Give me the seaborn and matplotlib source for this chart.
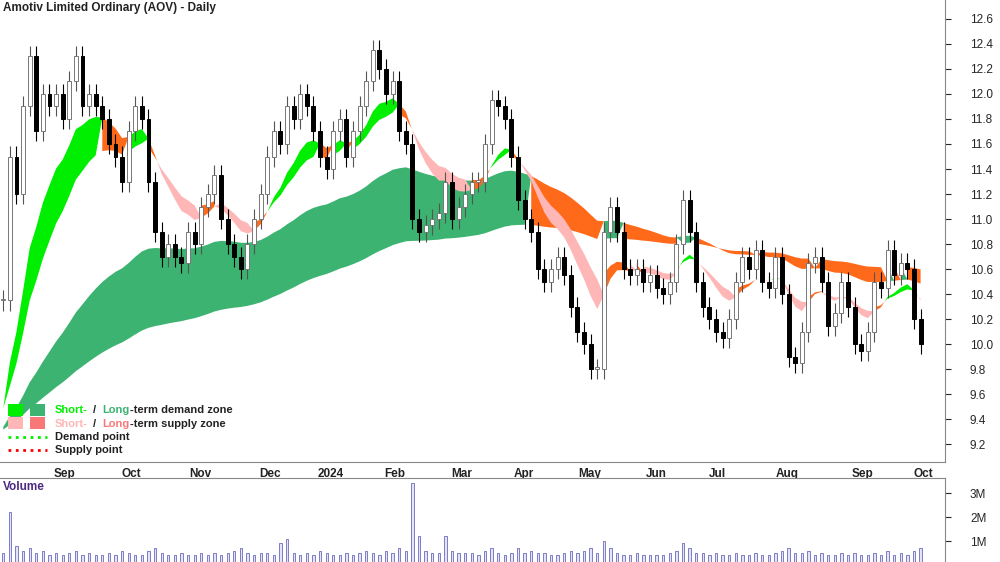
import matplotlib.pyplot as plt
import seaborn as sns
import pandas as pd
import numpy as np

# two-day bars
closes = [10.35, 11.5, 11.2, 11.9, 12.3, 11.7, 12.0, 11.9, 12.0, 11.8,
          12.1, 12.3, 11.9, 12.0, 11.9, 11.8, 11.6, 11.5, 11.3, 11.7,
          11.9, 11.8, 11.3, 10.9, 10.7, 10.8, 10.7, 10.65, 10.9, 10.8,
          11.1, 11.2, 11.35, 11.0, 10.8, 10.7, 10.6, 10.8, 11.0, 11.2,
          11.5, 11.7, 11.6, 11.9, 11.8, 12.0, 11.9, 11.7, 11.5, 11.4,
          11.7, 11.8, 11.5, 11.7, 11.9, 12.1, 12.35, 12.2, 12.0, 12.1,
          11.7, 11.6, 11.0, 10.9, 10.95, 11.0, 11.05, 11.3, 11.0, 11.1,
          11.2, 11.3, 11.3, 11.6, 11.95, 11.9, 11.8, 11.5, 11.15, 11.0,
          10.9, 10.6, 10.5, 10.6, 10.7, 10.55, 10.3, 10.1, 10.0, 9.8,
          9.8, 10.9, 11.1, 10.9, 10.6, 10.55, 10.6, 10.5, 10.55, 10.45,
          10.4, 10.5, 10.8, 11.15, 10.9, 10.5, 10.3, 10.2, 10.1, 10.05,
          10.2, 10.5, 10.7, 10.6, 10.75, 10.5, 10.45, 10.7, 10.4, 9.9,
          9.85, 10.1, 10.65, 10.7, 10.5, 10.15, 10.25, 10.5, 10.3, 10.0,
          9.95, 10.1, 10.5, 10.45, 10.75, 10.55, 10.65, 10.6, 10.2, 10.0]

# level before the chart starts (zones start near it on the left edge)
prior_close = 9.3

volume_m = [0.5, 2.2, 0.8, 0.6, 0.7, 0.5, 0.6, 0.4, 0.5, 0.4,
            0.5, 0.6, 0.4, 0.5, 0.4, 0.4, 0.5, 0.4, 0.6, 0.5,
            0.4, 0.4, 0.6, 0.7, 0.5, 0.4, 0.4, 0.5, 0.4, 0.4,
            0.5, 0.4, 0.5, 0.4, 0.5, 0.6, 0.7, 0.5, 0.4, 0.5,
            0.5, 0.4, 0.9, 1.1, 0.5, 0.4, 0.5, 0.4, 0.6, 0.5,
            0.4, 0.4, 0.5, 0.4, 0.5, 0.6, 0.5, 0.4, 0.6, 0.5,
            0.7, 0.6, 3.4, 1.2, 0.6, 0.5, 0.5, 1.2, 0.6, 0.5,
            0.5, 0.5, 0.4, 0.6, 0.7, 0.5, 0.4, 0.5, 0.7, 0.5,
            0.6, 0.5, 0.5, 0.4, 0.4, 0.5, 0.6, 0.5, 0.6, 0.7,
            0.5, 1.0, 0.7, 0.5, 0.4, 0.4, 0.5, 0.4, 0.4, 0.4,
            0.4, 0.5, 0.6, 0.9, 0.7, 0.5, 0.5, 0.4, 0.5, 0.4,
            0.4, 0.5, 0.4, 0.4, 0.5, 0.4, 0.4, 0.5, 0.6, 0.7,
            0.5, 0.5, 0.6, 0.4, 0.5, 0.4, 0.4, 0.5, 0.4, 0.5,
            0.4, 0.4, 0.5, 0.4, 0.6, 0.4, 0.5, 0.4, 0.6, 0.7]

month_labels = ['Sep', 'Oct', 'Nov', 'Dec', '2024', 'Feb', 'Mar', 'Apr',
                'May', 'Jun', 'Jul', 'Aug', 'Sep', 'Oct']
month_pos = [6.8, 17.0, 27.3, 37.9, 46.8, 56.8, 67.0, 76.5,
             86.2, 96.5, 106.0, 116.2, 127.6, 137.1]

price_ticks = [9.2, 9.4, 9.6, 9.8, 10.0, 10.2, 10.4, 10.6, 10.8, 11.0,
               11.2, 11.4, 11.6, 11.8, 12.0, 12.2, 12.4, 12.6]

LIME = '#00ee00'
SEA = '#3cb371'
PINK = '#ffb6b6'
SALMON = '#f87878'
ORANGE = '#ff6a1a'

df = pd.DataFrame({'close': closes, 'vol': volume_m})
df['open'] = df['close'].shift(1).fillna(df['close'])
df['x'] = np.arange(len(df))


def ema(span):
    seeded = pd.Series([prior_close] + closes)
    return seeded.ewm(span=span, adjust=False).mean().iloc[1:].values


s_fast, s_slow = ema(10), ema(16)
l_fast, l_slow = ema(50), ema(110)

sns.set_style('white')
plt.rcParams['font.family'] = ['Liberation Sans', 'DejaVu Sans']

fig = plt.figure(figsize=(10, 5.62), dpi=100)
ax = fig.add_axes([0.0, 1 - 462 / 562, 0.945, 462 / 562])
axv = fig.add_axes([0.0, 0.0, 0.945, 84 / 562])

x = df['x'].values
# long-term zone: green while the slow average rises, orange while it falls
l_up = np.diff(l_slow, prepend=l_slow[0] - 1) > 0
ax.fill_between(x, l_fast, l_slow, where=l_up, color=SEA, lw=0, interpolate=True)
ax.fill_between(x, l_fast, l_slow, where=~l_up, color=ORANGE, lw=0, interpolate=True)

# short-term zone
rising = np.diff(s_fast, prepend=s_fast[0]) > 0
sup = s_fast > s_slow
ax.fill_between(x, s_fast, s_slow, where=sup & rising, color=LIME, lw=0, interpolate=True)
ax.fill_between(x, s_fast, s_slow, where=~sup & ~rising, color=PINK, lw=0, interpolate=True)
ax.fill_between(x, s_fast, s_slow, where=(sup != rising), color=ORANGE, lw=0, interpolate=True)

# candles
wick = 0.08
for _, r in df.iterrows():
    lo, hi = min(r.open, r.close), max(r.open, r.close)
    down = r.close < r.open
    ax.vlines(r.x, lo - wick, hi + wick, color='black' if down else '#555555', lw=0.8, zorder=3)
    body = max(hi - lo, 0.015)
    ax.add_patch(plt.Rectangle((r.x - 0.3, lo), 0.6, body,
                               facecolor='black' if down else 'white',
                               edgecolor='black' if down else '#777777', lw=0.7, zorder=4))

ax.set_xlim(-0.5, 142.7)
ax.set_ylim(9.06, 12.75)
ax.yaxis.tick_right()
ax.set_yticks(price_ticks)
ax.set_yticklabels([f'{t:.1f}' for t in price_ticks], fontsize=8.5)
ax.tick_params(axis='y', direction='out', length=4, pad=14)
ax.set_xticks(month_pos)
ax.set_xticklabels([])
ax.tick_params(axis='x', direction='out', length=3)
for lab, p in zip(month_labels, month_pos):
    ax.text(p + 0.9, -0.012, lab, transform=ax.get_xaxis_transform(),
            ha='left', va='top', fontsize=8.5, fontweight='bold', color='#222222')
for side in ['top', 'left']:
    ax.spines[side].set_visible(False)
ax.spines['right'].set_color('#888888')
ax.spines['bottom'].set_color('#888888')
ax.text(0.003, 0.995, 'Amotiv Limited Ordinary (AOV) - Daily', transform=ax.transAxes,
        ha='left', va='top', fontsize=8.5, fontweight='bold', color='#222222')


# legend
def legend_row(y, c1, c2, parts, dotted=None):
    if dotted:
        ax.plot([0.008, 0.05], [y, y], transform=ax.transAxes, color=dotted, lw=2, ls=':')
    else:
        ax.add_patch(plt.Rectangle((0.008, y - 0.012), 0.016, 0.026, transform=ax.transAxes,
                                   facecolor=c1, lw=0))
        ax.add_patch(plt.Rectangle((0.032, y - 0.012), 0.016, 0.026, transform=ax.transAxes,
                                   facecolor=c2, lw=0))
    xx = 0.058
    for txt, col, w in parts:
        ax.text(xx, y, txt, transform=ax.transAxes, ha='left', va='center',
                fontsize=8, fontweight='bold', color=col)
        xx += w


legend_row(0.112, LIME, SEA, [('Short-', LIME, 0.04), ('/', '#222222', 0.01),
                              ('Long', SEA, 0.03), ('-term demand zone', '#222222', 0)])
legend_row(0.083, PINK, SALMON, [('Short-', PINK, 0.04), ('/', '#222222', 0.01),
                                 ('Long', SALMON, 0.03), ('-term supply zone', '#222222', 0)])
legend_row(0.054, None, None, [('Demand point', '#222222', 0)], dotted=LIME)
legend_row(0.026, None, None, [('Supply point', '#222222', 0)], dotted='red')

# volume
axv.bar(x, df['vol'], width=0.35, color='#e4e4f6', edgecolor='#6a6ac0', lw=0.6)
axv.set_xlim(-0.5, 142.7)
axv.set_ylim(0.125, 3.625)
axv.yaxis.tick_right()
axv.set_yticks([1, 2, 3])
axv.set_yticklabels(['1M', '2M', '3M'], fontsize=8.5)
axv.tick_params(axis='y', direction='out', length=4, pad=14)
axv.set_xticks([])
for side in ['left', 'bottom']:
    axv.spines[side].set_visible(False)
axv.spines['top'].set_color('#888888')
axv.spines['right'].set_color('#888888')
axv.text(0.003, 0.96, 'Volume', transform=axv.transAxes, ha='left', va='top',
         fontsize=8.5, fontweight='bold', color='#4b2a80')

fig.savefig('out.png', dpi=100)
